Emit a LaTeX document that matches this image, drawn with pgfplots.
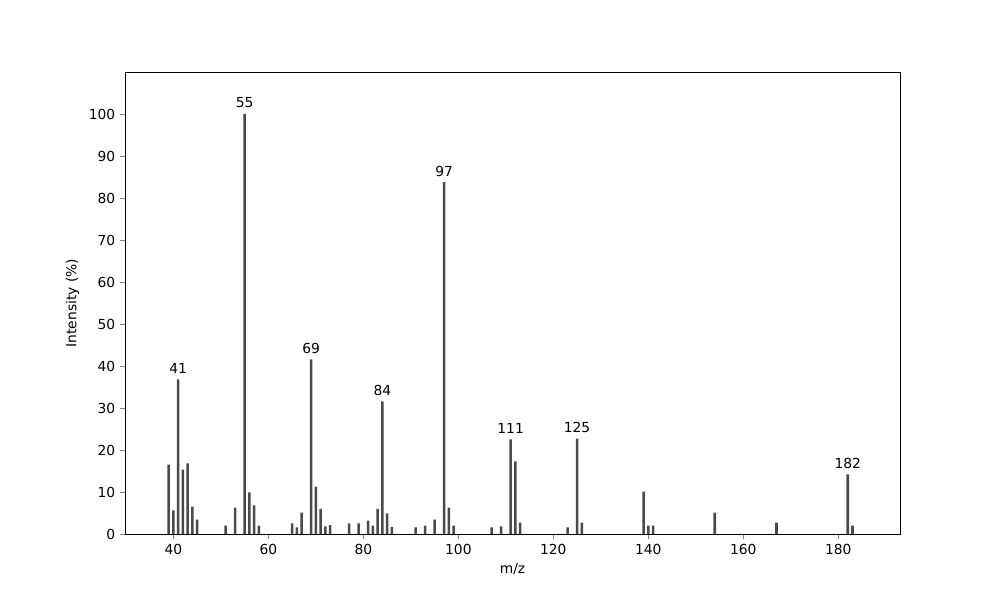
\documentclass[border=0pt]{standalone}
\usepackage{pgfplots}
\pgfplotsset{compat=1.18}
\usepackage{fontspec}
\setmainfont{DejaVu Sans}
\definecolor{barcol}{HTML}{4A4A4A}

\pgfplotstableread{
mz  inten
39  16.5
40  5.6
41  36.8
42  15.3
43  16.8
44  6.5
45  3.4
51  2.0
53  6.3
55  100
56  9.9
57  6.8
58  2.0
65  2.5
66  1.6
67  5.1
69  41.6
70  11.3
71  6.0
72  1.8
73  2.1
77  2.5
79  2.5
81  3.2
82  2.0
83  6.0
84  31.6
85  4.9
86  1.7
91  1.6
93  2.0
95  3.4
97  83.8
98  6.3
99  2.0
107 1.6
109 1.8
111 22.5
112 17.3
113 2.7
123 1.6
125 22.7
126 2.7
139 10.1
140 2.0
141 2.0
154 5.1
167 2.7
182 14.2
183 2.0
}\spectrum

\pgfplotstableread{
mz  inten label
41  36.8  41
55  100   55
69  41.6  69
84  31.6  84
97  83.8  97
111 22.5  111
125 22.7  125
182 14.2  182
}\peaks

\begin{document}
\begin{tikzpicture}
\path (0,0) rectangle (10in,6in);
\begin{axis}[
    at={(1.25in,0.66in)}, anchor=south west,
    scale only axis,
    width=7.75in, height=4.62in,
    xmin=29.8, xmax=193,
    ymin=0, ymax=110,
    xtick={40,60,...,180},
    ytick={0,10,...,100},
    tick align=outside,
    major tick length=3.5pt,
    xtick pos=bottom, ytick pos=left,
    /pgf/number format/assume math mode=true,
    xlabel={m/z},
    ylabel={Intensity (\%)},
    axis line style={line width=0.6pt},
    ]
\addplot[ybar, bar width=0.55, bar shift=0pt, fill=barcol, draw=none]
    table[x=mz, y=inten] {\spectrum};
\addplot[draw=none, mark=none, nodes near coords, point meta=explicit symbolic,
    every node near coord/.style={anchor=south, inner sep=1pt, yshift=3pt}]
    table[x=mz, y=inten, meta=label] {\peaks};
\end{axis}
\end{tikzpicture}
\end{document}
